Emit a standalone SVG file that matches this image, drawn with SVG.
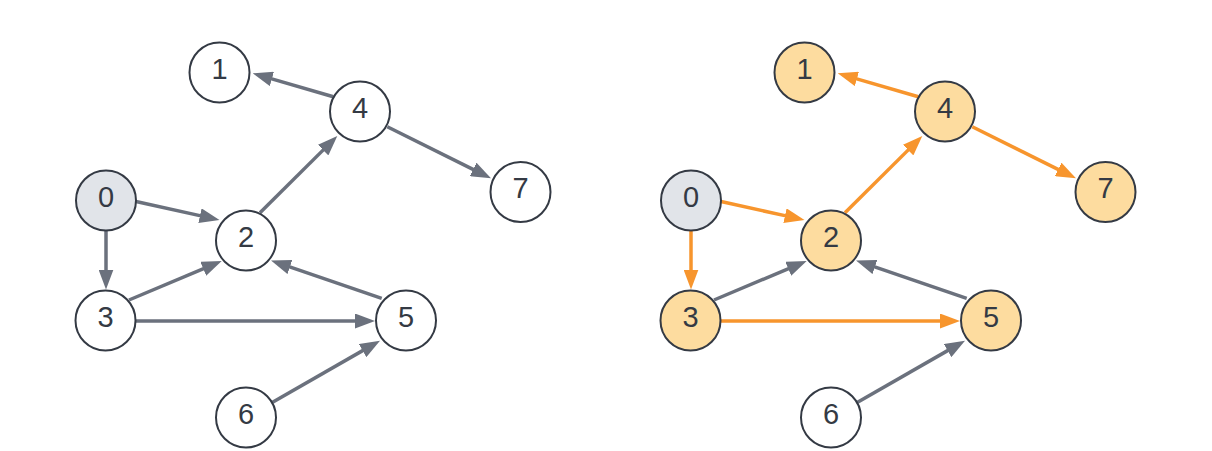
<svg xmlns="http://www.w3.org/2000/svg" width="1212" height="451" viewBox="0 0 1212 451">
<style>
.n{fill:#ffffff;stroke:#343a44;stroke-width:2}
.s{fill:#e1e4e9}
.v{fill:#fddc9f}
.t{font-family:"Liberation Sans",Arial,sans-serif;font-size:29px;fill:#343a44;text-anchor:middle}
.e{fill:none;stroke:#6b717d;stroke-width:3.5}
.eg{marker-end:url(#ag)}
.o{stroke:#f7952d;stroke-width:3.5;marker-end:url(#ao)}
</style>
<defs>
<marker id="ag" markerUnits="userSpaceOnUse" markerWidth="20" markerHeight="15" refX="1" refY="7.5" orient="auto" viewBox="0 0 20 15">
<path d="M0,0 L20,7.5 L0,15 z" fill="#6b717d"/>
</marker>
<marker id="ao" markerUnits="userSpaceOnUse" markerWidth="20" markerHeight="15" refX="1" refY="7.5" orient="auto" viewBox="0 0 20 15">
<path d="M0,0 L20,7.5 L0,15 z" fill="#f7952d"/>
</marker>
</defs>
<rect width="1212" height="451" fill="#ffffff"/>

<g id="left">
<g id="left-edges">
<line class="e eg" x1="136" y1="201.5" x2="200.94" y2="215.89"/>
<line class="e eg" x1="106" y1="230.5" x2="106" y2="270.5"/>
<line class="e eg" x1="129" y1="300" x2="204.19" y2="268.37"/>
<line class="e eg" x1="136" y1="321" x2="356" y2="321"/>
<line class="e eg" x1="260" y1="212.7" x2="323.81" y2="149.38"/>
<line class="e eg" x1="333.3" y1="96.7" x2="270.95" y2="78.6"/>
<line class="e eg" x1="387.3" y1="126.7" x2="473.99" y2="169.84"/>
<line class="e eg" x1="381.7" y1="298.3" x2="288.98" y2="266.64"/>
<line class="e eg" x1="271.7" y1="402.7" x2="363.51" y2="350.14"/>
</g>
<g id="L0"><circle class="n s" cx="106" cy="200.5" r="30"/><text class="t" x="106" y="206.5">0</text></g>
<g id="L1"><circle class="n" cx="219.5" cy="72.5" r="30"/><text class="t" x="219.5" y="78.5">1</text></g>
<g id="L2"><circle class="n" cx="246" cy="240.5" r="30"/><text class="t" x="246" y="246.5">2</text></g>
<g id="L3"><circle class="n" cx="105.5" cy="320.5" r="30"/><text class="t" x="105.5" y="326.5">3</text></g>
<g id="L4"><circle class="n" cx="360" cy="111.5" r="30"/><text class="t" x="360" y="117.5">4</text></g>
<g id="L5"><circle class="n" cx="406" cy="320.5" r="30"/><text class="t" x="406" y="326.5">5</text></g>
<g id="L6"><circle class="n" cx="246" cy="417.5" r="30"/><text class="t" x="246" y="423.5">6</text></g>
<g id="L7"><circle class="n" cx="520.5" cy="192" r="30"/><text class="t" x="520.5" y="198">7</text></g>
</g>

<g id="right" transform="translate(585,0)">
<g id="right-edges">
<line class="e o" x1="136" y1="201.5" x2="200.94" y2="215.89"/>
<line class="e o" x1="106" y1="230.5" x2="106" y2="270.5"/>
<line class="e eg" x1="129" y1="300" x2="204.19" y2="268.37"/>
<line class="e o" x1="136" y1="321" x2="356" y2="321"/>
<line class="e o" x1="260" y1="212.7" x2="323.81" y2="149.38"/>
<line class="e o" x1="333.3" y1="96.7" x2="270.95" y2="78.6"/>
<line class="e o" x1="387.3" y1="126.7" x2="473.99" y2="169.84"/>
<line class="e eg" x1="381.7" y1="298.3" x2="288.98" y2="266.64"/>
<line class="e eg" x1="271.7" y1="402.7" x2="363.51" y2="350.14"/>
</g>
<g id="R0"><circle class="n s" cx="106" cy="200.5" r="30"/><text class="t" x="106" y="206.5">0</text></g>
<g id="R1"><circle class="n v" cx="219.5" cy="72.5" r="30"/><text class="t" x="219.5" y="78.5">1</text></g>
<g id="R2"><circle class="n v" cx="246" cy="240.5" r="30"/><text class="t" x="246" y="246.5">2</text></g>
<g id="R3"><circle class="n v" cx="105.5" cy="320.5" r="30"/><text class="t" x="105.5" y="326.5">3</text></g>
<g id="R4"><circle class="n v" cx="360" cy="111.5" r="30"/><text class="t" x="360" y="117.5">4</text></g>
<g id="R5"><circle class="n v" cx="406" cy="320.5" r="30"/><text class="t" x="406" y="326.5">5</text></g>
<g id="R6"><circle class="n" cx="246" cy="417.5" r="30"/><text class="t" x="246" y="423.5">6</text></g>
<g id="R7"><circle class="n v" cx="520.5" cy="192" r="30"/><text class="t" x="520.5" y="198">7</text></g>
</g>
</svg>
